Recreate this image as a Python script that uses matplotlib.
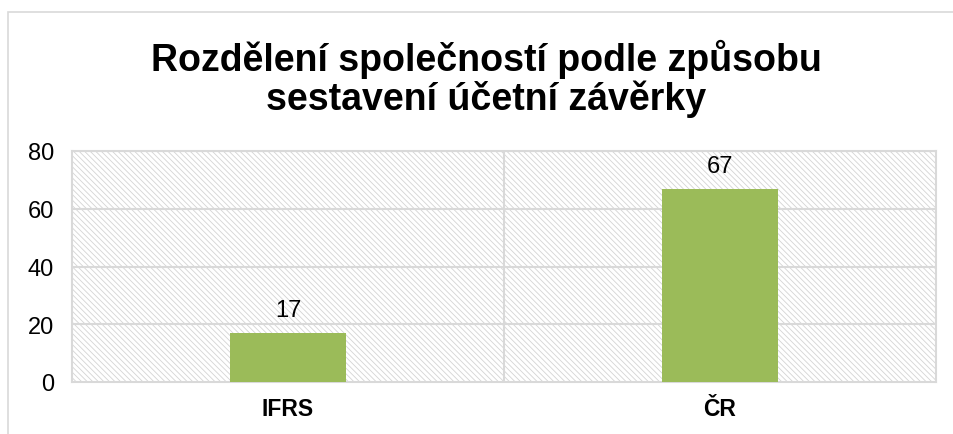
import matplotlib.pyplot as plt
from matplotlib.patches import Rectangle

# data
categories = ["IFRS", "ČR"]
values = [17, 67]
yticks = [0, 20, 40, 60, 80]

plt.rcParams['font.family'] = ['Liberation Sans', 'DejaVu Sans']
plt.rcParams['hatch.linewidth'] = 0.6
plt.rcParams['hatch.color'] = '#d4d4d4'

fig = plt.figure(figsize=(9.54, 4.35), dpi=100)
ax = fig.add_axes([72 / 954, 1 - 383 / 435, 864 / 954, 231 / 435])

# figure border (chart area)
fig.patches.append(Rectangle((8 / 954, -0.1), 1.2, 1 - 13 / 435 + 0.1,
                             transform=fig.transFigure, fill=False,
                             edgecolor='#d9d9d9', linewidth=1.2))

# hatched plot area background
ax.add_patch(Rectangle((0, 0), 1, 1, transform=ax.transAxes, facecolor='white',
                       hatch='\\\\\\\\\\\\', edgecolor='#d4d4d4', linewidth=0, zorder=0))

x = range(len(categories))
bars = ax.bar(x, values, width=0.27, color='#9BBB59', zorder=3)
for b, v in zip(bars, values):
    ax.text(b.get_x() + b.get_width() / 2, v + 5.9, str(v), ha='center', va='baseline',
            fontsize=17, zorder=4)

ax.set_xlim(-0.5, len(categories) - 0.5)
ax.set_ylim(0, 80)
ax.set_yticks(yticks)
ax.set_xticks(list(x))
ax.set_xticklabels(categories, fontweight='bold', fontsize=16.5)
ax.tick_params(axis='y', labelsize=17, length=0, pad=13)
ax.tick_params(axis='x', length=0, pad=11)

for yv in yticks[1:]:
    ax.axhline(yv, color='#d9d9d9', linewidth=1.5, zorder=1)
for i in range(1, len(categories)):
    ax.axvline(i - 0.5, color='#d9d9d9', linewidth=1.5, zorder=1)
for s in ax.spines.values():
    s.set_color('#d9d9d9')
    s.set_linewidth(1.5)

fig.text(486 / 954, 1 - 79 / 435, "Rozdělení společností podle způsobu\nsestavení účetní závěrky",
         ha='center', va='center', fontsize=27, fontweight='bold', linespacing=1.05)

fig.savefig("out.png", dpi=100)
